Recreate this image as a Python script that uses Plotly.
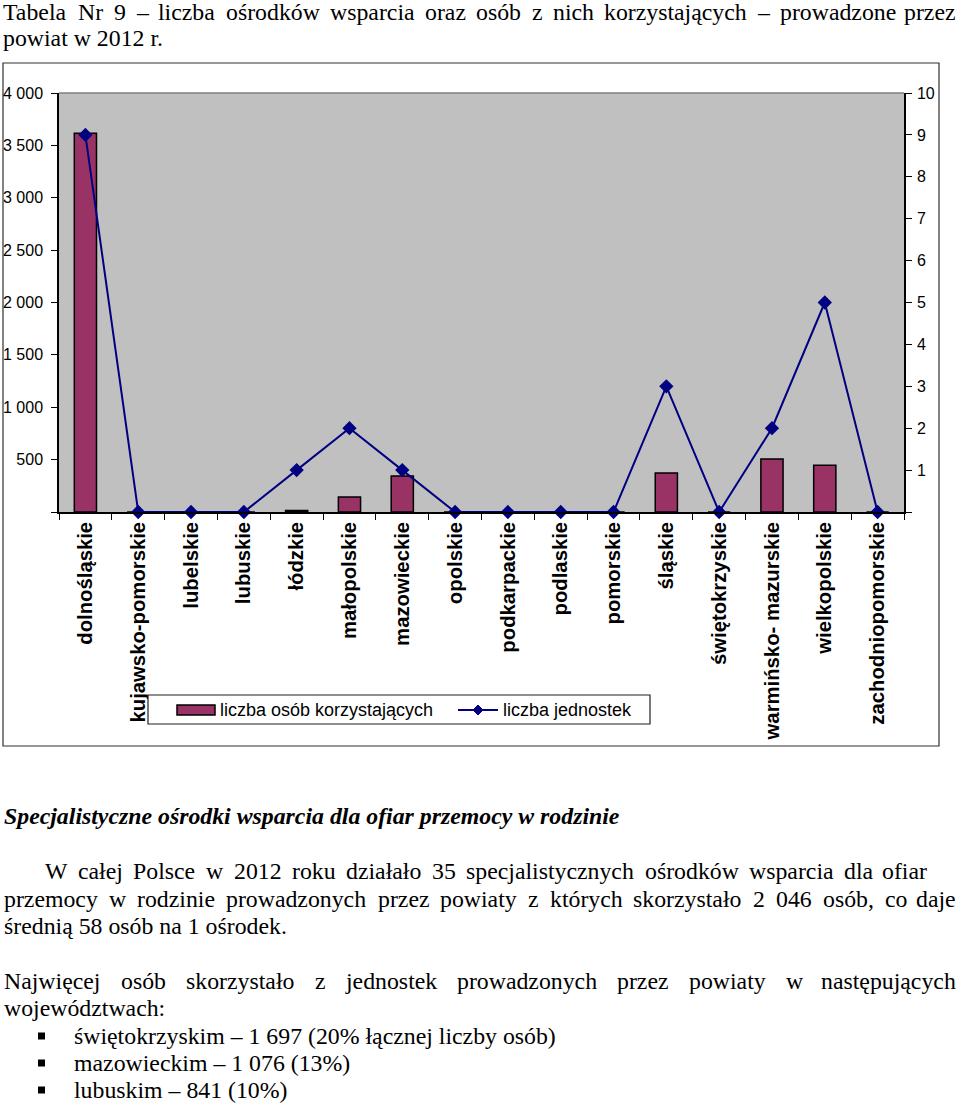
import plotly.graph_objects as go

# ---------------- data ----------------
categories = ["dolnośląskie", "kujawsko-pomorskie", "lubelskie", "lubuskie", "łódzkie",
              "małopolskie", "mazowieckie", "opolskie", "podkarpackie", "podlaskie",
              "pomorskie", "śląskie", "świętokrzyskie", "warmińsko- mazurskie",
              "wielkopolskie", "zachodniopomorskie"]
persons = [3615, 0, 0, 0, 15, 143, 344, 0, 0, 0, 0, 373, 0, 506, 446, 0]
units = [9, 0, 0, 0, 1, 2, 1, 0, 0, 0, 0, 3, 0, 2, 5, 0]

left_tickvals = [0, 500, 1000, 1500, 2000, 2500, 3000, 3500, 4000]
left_ticktext = ["", "500", "1 000", "1 500", "2 000", "2 500", "3 000", "3 500", "4 000"]
right_tickvals = [0, 1, 2, 3, 4, 5, 6, 7, 8, 9, 10]
right_ticktext = ["", "1", "2", "3", "4", "5", "6", "7", "8", "9", "10"]

legend_labels = ["liczba osób korzystających", "liczba jednostek"]

header_line1 = "Tabela Nr 9 – liczba ośrodków wsparcia oraz osób z nich korzystających – prowadzone przez"
header_line2 = "powiat w 2012 r."
section_title = "Specjalistyczne ośrodki wsparcia dla ofiar przemocy w rodzinie"
para1 = ["W całej Polsce w 2012 roku działało 35 specjalistycznych ośrodków wsparcia dla ofiar",
         "przemocy w rodzinie prowadzonych przez powiaty z których skorzystało 2 046 osób, co daje",
         "średnią 58 osób na 1 ośrodek."]
para2 = ["Najwięcej osób skorzystało z jednostek prowadzonych przez powiaty w następujących",
         "województwach:"]
bullets = ["świętokrzyskim – 1 697 (20% łącznej liczby osób)",
           "mazowieckim – 1 076 (13%)",
           "lubuskim – 841 (10%)"]

# ---------------- geometry helpers ----------------
W, H = 960, 1105
def px(x):
    return x / W
def py(y):
    return 1 - y / H

PLOT_L, PLOT_R, PLOT_T, PLOT_B = 59, 904, 93, 512
SANS = "Liberation Sans, Arial, sans-serif"
SERIF = "Liberation Serif, Times New Roman, serif"

# Times-like widths (per 1000 em) for justification
TIMES = {' ': 250, '!': 333, '(': 333, ')': 333, '%': 833, ',': 250, '-': 333, '.': 250, ':': 278,
         '–': 500}
for d in "0123456789":
    TIMES[d] = 500
TIMES.update({'A': 722, 'B': 667, 'C': 667, 'D': 722, 'E': 611, 'F': 556, 'G': 722, 'H': 722,
              'I': 333, 'J': 389, 'K': 722, 'L': 611, 'M': 889, 'N': 722, 'O': 722, 'P': 556,
              'Q': 722, 'R': 667, 'S': 556, 'T': 611, 'U': 722, 'V': 722, 'W': 944, 'X': 722,
              'Y': 722, 'Z': 611,
              'a': 444, 'b': 500, 'c': 444, 'd': 500, 'e': 444, 'f': 333, 'g': 500, 'h': 500,
              'i': 278, 'j': 278, 'k': 500, 'l': 278, 'm': 778, 'n': 500, 'o': 500, 'p': 500,
              'q': 500, 'r': 333, 's': 389, 't': 278, 'u': 500, 'v': 500, 'w': 722, 'x': 500,
              'y': 500, 'z': 444,
              'ą': 444, 'ć': 444, 'ę': 444, 'ł': 278, 'ń': 500, 'ó': 500, 'ś': 389, 'ź': 444,
              'ż': 444, 'Ś': 556, 'Ż': 611})

def tw(s, size):
    return sum(TIMES.get(c, 500) for c in s) * size / 1000.0

annotations = []

def text_ann(text, x, y, size, family=SERIF, anchor="left", italic=False, bold=False, color="black"):
    annotations.append(dict(
        text=text, x=px(x), y=py(y), xref="paper", yref="paper",
        xanchor=anchor, yanchor="middle", showarrow=False, borderpad=0,
        font=dict(family=family, size=size, color=color,
                  style="italic" if italic else "normal",
                  weight="bold" if bold else "normal")))

def justify(line, x0, x1, y, size):
    words = line.split(" ")
    widths = [tw(w, size) for w in words]
    gap = (x1 - x0 - sum(widths)) / (len(words) - 1)
    x = x0
    for i, w in enumerate(words):
        if i == len(words) - 1:
            text_ann(w, x1, y, size, anchor="right")
        else:
            text_ann(w, x, y, size)
        x += widths[i] + gap

FS = 23.8
# header
justify(header_line1, 2, 957, 12, FS)
text_ann(header_line2, 2, 38, FS)
# section
text_ann(section_title, 3, 816, FS, italic=True, bold=True)
justify(para1[0], 44, 928, 871, FS)
justify(para1[1], 3, 957, 899, FS)
text_ann(para1[2], 3, 926, FS)
justify(para2[0], 3, 957, 981, FS)
text_ann(para2[1], 3, 1008, FS)
bullet_y = [1036, 1063, 1090]
shapes = []
for t, yy in zip(bullets, bullet_y):
    text_ann(t, 73, yy, FS)
    shapes.append(dict(type="rect", xref="paper", yref="paper",
                       x0=px(38), x1=px(45), y0=py(yy + 3.5), y1=py(yy - 3.5),
                       fillcolor="black", line=dict(width=0)))

# chart outer border
shapes.append(dict(type="rect", xref="paper", yref="paper", x0=px(3), x1=px(939),
                   y0=py(746), y1=py(63), line=dict(color="#303030", width=1.2),
                   fillcolor="rgba(0,0,0,0)", layer="below"))
# plot area top border (grey)
shapes.append(dict(type="line", xref="paper", yref="paper", x0=px(PLOT_L), x1=px(PLOT_R),
                   y0=py(PLOT_T), y1=py(PLOT_T), line=dict(color="#808080", width=1.5)))

# manual legend
LG_L, LG_R, LG_T, LG_B = 148, 650, 695, 724
LG_Y = 710
shapes.append(dict(type="rect", xref="paper", yref="paper", x0=px(LG_L), x1=px(LG_R),
                   y0=py(LG_B), y1=py(LG_T), fillcolor="white",
                   line=dict(color="#202020", width=1.2)))
shapes.append(dict(type="rect", xref="paper", yref="paper", x0=px(177), x1=px(215),
                   y0=py(715), y1=py(705), fillcolor="#993366",
                   line=dict(color="black", width=1.5)))
shapes.append(dict(type="line", xref="paper", yref="paper", x0=px(458), x1=px(498),
                   y0=py(LG_Y), y1=py(LG_Y), line=dict(color="#000080", width=2)))
dx, dy = 5, 5
shapes.append(dict(type="path", xref="paper", yref="paper",
                   path=f"M {px(478)},{py(LG_Y - dy)} L {px(478 + dx)},{py(LG_Y)} "
                        f"L {px(478)},{py(LG_Y + dy)} L {px(478 - dx)},{py(LG_Y)} Z",
                   fillcolor="#000080", line=dict(color="#000080", width=1)))
text_ann(legend_labels[0], 219, LG_Y, 18, family=SANS)
text_ann(legend_labels[1], 502, LG_Y, 18, family=SANS)

# ---------------- traces ----------------
fig = go.Figure()
fig.add_trace(go.Bar(
    x=categories, y=persons, name=legend_labels[0], width=0.42,
    marker=dict(color="#993366", line=dict(color="black", width=1.5)),
    yaxis="y", showlegend=False))
fig.add_trace(go.Scatter(
    x=categories, y=units, name=legend_labels[1], mode="lines+markers",
    line=dict(color="#000080", width=2),
    marker=dict(symbol="diamond", size=11, color="#000080"),
    yaxis="y2", cliponaxis=False, showlegend=False))

fig.update_layout(
    width=W, height=H,
    margin=dict(l=0, r=0, t=0, b=0),
    paper_bgcolor="white", plot_bgcolor="#C0C0C0",
    font=dict(family=SANS, color="black"),
    showlegend=False,
    xaxis=dict(domain=[px(PLOT_L), px(PLOT_R)], type="category",
               categoryorder="array", categoryarray=categories,
               range=[-0.5, len(categories) - 0.5], automargin=False,
               showline=True, linecolor="black", linewidth=1.5,
               ticks="outside", tickson="boundaries", ticklen=6, tickcolor="black",
               tickangle=-90, showgrid=False, zeroline=False,
               tickfont=dict(family=SANS, size=20.3, weight="bold", color="black")),
    yaxis=dict(domain=[py(PLOT_B), py(PLOT_T)], range=[0, 4000], automargin=False,
               tickvals=left_tickvals, ticktext=left_ticktext,
               showline=True, linecolor="black", linewidth=1.5,
               ticks="outside", ticklen=6, tickcolor="black",
               ticklabelstandoff=5,
               showgrid=False, zeroline=False,
               tickfont=dict(family=SANS, size=16, color="black")),
    yaxis2=dict(domain=[py(PLOT_B), py(PLOT_T)], range=[0, 10], overlaying="y", side="right",
                anchor="x", automargin=False,
                tickvals=right_tickvals, ticktext=right_ticktext,
                showline=True, linecolor="black", linewidth=1.5,
                ticks="outside", ticklen=6, tickcolor="black",
                ticklabelstandoff=2,
                showgrid=False, zeroline=False,
                tickfont=dict(family=SANS, size=16, color="black")),
    shapes=shapes,
    annotations=annotations,
)

fig.write_html("out.html",
               config={"displayModeBar": False},
               post_script="document.body.style.margin='0px';document.body.style.overflow='hidden';")
